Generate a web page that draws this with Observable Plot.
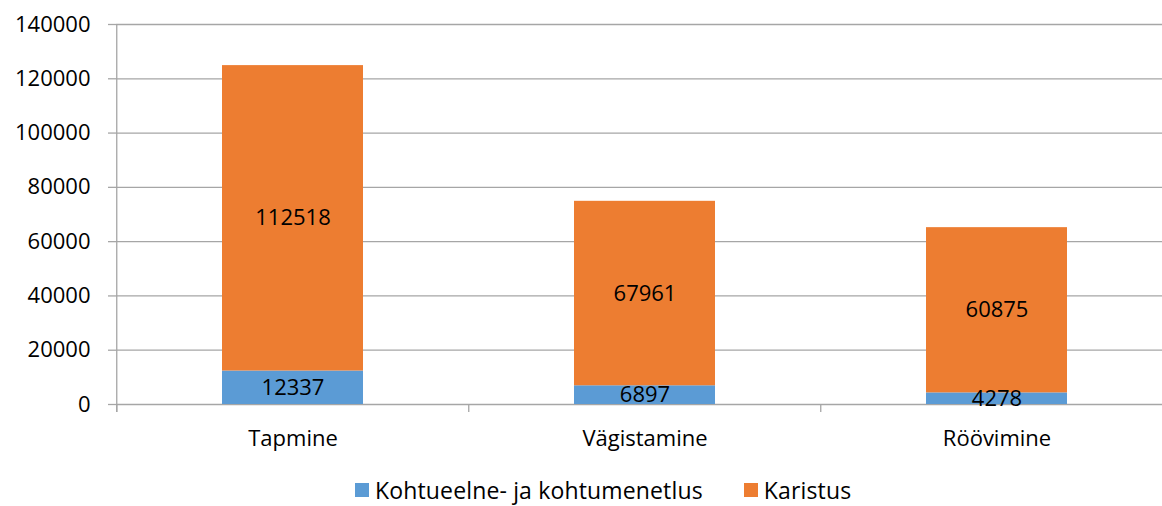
<!DOCTYPE html>
<html>
<head>
<meta charset="utf-8">
<script src="https://cdn.jsdelivr.net/npm/d3@7"></script>
<script src="https://cdn.jsdelivr.net/npm/@observablehq/plot@0.6"></script>
<style>
  html, body { margin: 0; padding: 0; background: #fff; }
  #wrap { position: relative; width: 1162px; height: 506px; font-family: "Open Sans", sans-serif; }
  #legend { position: absolute; left: 355px; top: 479px; height: 22px; display: flex; align-items: center; font-size: 23px; line-height: 22px; letter-spacing: 0.15px; color: #000; white-space: nowrap; }
  .item { display: flex; align-items: center; margin-right: 41px; }
  .item span { line-height: 22px; }
  .sw { width: 14px; height: 14px; margin-right: 6px; }
</style>
</head>
<body>
<div id="wrap"></div>
<script>
const categories = ["Tapmine", "Vägistamine", "Röövimine"];
const series = ["Kohtueelne- ja kohtumenetlus", "Karistus"];
const pretrial = [12337, 6897, 4278];
const punishment = [112518, 67961, 60875];
const yTicks = [0, 20000, 40000, 60000, 80000, 100000, 120000, 140000];
const colors = ["#5b9bd5", "#ed7d31"];
const gridColor = "#a6a6a6";

const data = categories.flatMap((c, i) => [
  {cat: c, series: series[0], value: pretrial[i]},
  {cat: c, series: series[1], value: punishment[i]}
]);

const left = 116, step = 352.5;
const tickBelow = -8 * 140000 / 380;

const chart = Plot.plot({
  width: 1162,
  height: 470,
  marginLeft: left,
  marginRight: 0,
  marginTop: 24,
  marginBottom: 66,
  style: {fontFamily: "Open Sans", fontSize: "22px", color: "#000", background: "white"},
  x: {domain: categories, range: [left, left + 3 * step], paddingInner: 0.6, paddingOuter: 0.3, align: 0.5},
  y: {domain: [0, 140000]},
  color: {domain: series, range: colors},
  marks: [
    Plot.gridY(yTicks, {stroke: gridColor, strokeOpacity: 1, strokeWidth: 1.3}),
    Plot.axisY(yTicks, {tickSize: 8, tickPadding: 18, stroke: gridColor, strokeWidth: 1.3, tickFormat: d3.format("d"), fontSize: 22, label: null}),
    Plot.ruleX(categories, {x: d => d, dx: -step / 2, y1: 0, y2: tickBelow, stroke: gridColor, strokeWidth: 1.3}),
    Plot.ruleX([categories[0]], {x: d => d, dx: -step / 2, y1: tickBelow, y2: 140000, stroke: gridColor, strokeWidth: 1.3}),
    Plot.barY(data, {x: "cat", y: "value", fill: "series"}),
    Plot.text(data, Plot.stackY({x: "cat", y: "value", z: "series", text: d => String(d.value), fill: "#000", fontSize: 22})),
    Plot.axisX({tickSize: 0, tickPadding: 26, fontSize: 22, label: null})
  ]
});

const wrap = document.getElementById("wrap");
wrap.appendChild(chart);
const legend = document.createElement("div");
legend.id = "legend";
series.forEach((s, i) => {
  const it = document.createElement("div");
  it.className = "item";
  const sw = document.createElement("div");
  sw.className = "sw";
  sw.style.background = colors[i];
  const t = document.createElement("span");
  t.textContent = s;
  it.appendChild(sw);
  it.appendChild(t);
  legend.appendChild(it);
});
wrap.appendChild(legend);
</script>
</body>
</html>
